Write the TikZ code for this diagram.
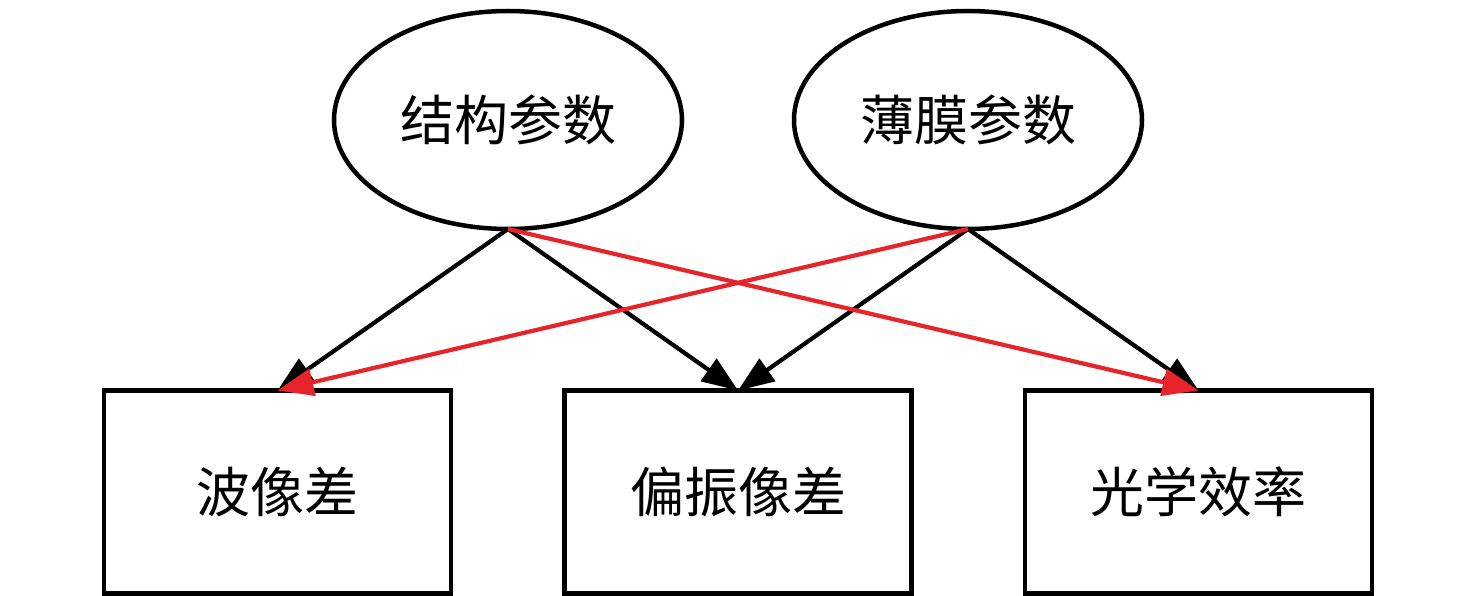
\documentclass[tikz,border=0pt]{standalone}
\usepackage{fontspec}
\newfontfamily\cjk{Noto Sans CJK SC}
\usetikzlibrary{arrows.meta,shapes.geometric}
\definecolor{redarrow}{RGB}{230,36,42}
\begin{document}
\begin{tikzpicture}[x=1pt,y=-1pt,
  every node/.style={font=\cjk\fontsize{54}{60}\selectfont, line width=4.5pt, outer sep=0pt, inner sep=0pt},
  param/.style={draw, ellipse, minimum width=348pt, minimum height=218pt},
  result/.style={draw, rectangle, minimum width=347pt, minimum height=203pt},
  conn/.style={line width=4.2pt, -{Triangle[length=36pt,width=27pt]}},
  blackconn/.style={conn, black},
  redconn/.style={conn, redarrow}]
\useasboundingbox (0,0) rectangle (1476,596);
\node[param] (s) at (508,120) {结构参数};
\node[param] (f) at (968,120) {薄膜参数};
\node[result] (w) at (277.5,492) {波像差};
\node[result] (p) at (738,492) {偏振像差};
\node[result] (o) at (1198.5,492) {光学效率};
\draw[blackconn] (s.south) -- (w.north);
\draw[blackconn] (s.south) -- (p.north);
\draw[blackconn] (f.south) -- (p.north);
\draw[blackconn] (f.south) -- (o.north);
\draw[redconn] (f.south) -- (w.north);
\draw[redconn] (s.south) -- (o.north);
\end{tikzpicture}
\end{document}
